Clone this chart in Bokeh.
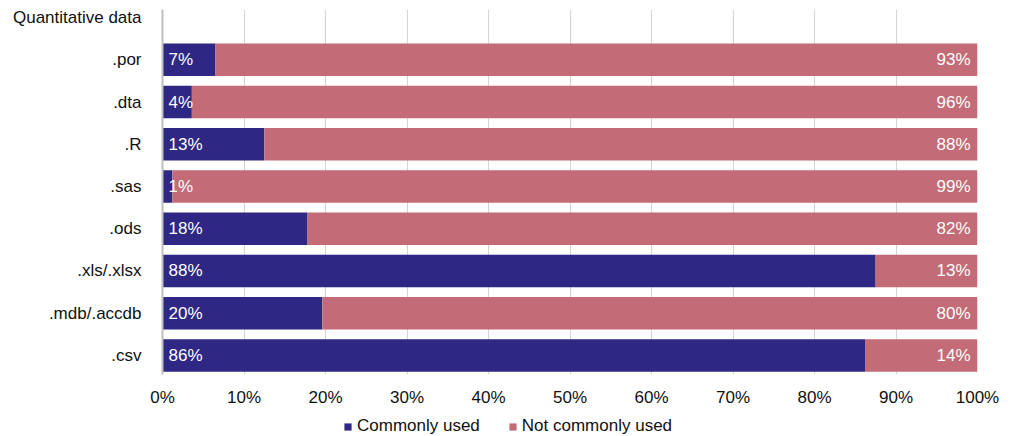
from bokeh.plotting import figure
from bokeh.layouts import column
from bokeh.models import (ColumnDataSource, FixedTicker, Legend, LegendItem,
                          PrintfTickFormatter, Range1d, LabelSet)
from bokeh.core.properties import value
from bokeh.embed import file_html
from bokeh.resources import INLINE

header = "Quantitative data"
categories = [".por", ".dta", ".R", ".sas", ".ods", ".xls/.xlsx", ".mdb/.accdb", ".csv"]
commonly_used = [6.5, 3.6, 12.5, 1.2, 17.8, 87.5, 19.6, 86.2]
not_commonly_used = [93.5, 96.4, 87.5, 98.8, 82.2, 12.5, 80.4, 13.8]
commonly_labels = ["7%", "4%", "13%", "1%", "18%", "88%", "20%", "86%"]
not_commonly_labels = ["93%", "96%", "88%", "99%", "82%", "13%", "80%", "14%"]
x_ticks = [0, 10, 20, 30, 40, 50, 60, 70, 80, 90, 100]
series_names = ["Commonly used", "Not commonly used"]

NAVY = "#2E2783"
PINK = "#C36B77"
COLORS = [NAVY, PINK]
FONT = "Liberation Sans"

n = len(categories)
ypos = [n - 1 - i for i in range(n)]
src = ColumnDataSource(dict(
    y=ypos, cu=commonly_used, ncu=not_commonly_used,
    cul=commonly_labels, ncul=not_commonly_labels,
    zero=[0] * n, full=[100] * n,
))

p = figure(frame_width=815, frame_height=365, output_backend="svg", toolbar_location=None,
           x_range=Range1d(0, 100), y_range=Range1d(-0.45, n + 0.19),
           min_border_left=162, min_border_right=36, min_border_top=9,
           min_border_bottom=0)
p.outline_line_color = None

rs = p.hbar_stack(["cu", "ncu"], y="y", height=0.77, source=src,
                  color=COLORS, line_color=None)

p.add_layout(LabelSet(x="zero", y="y", text="cul", source=src, x_offset=6,
                      text_align="left", text_baseline="middle",
                      text_color="white", text_font_size="17px", text_font=value(FONT)))
p.add_layout(LabelSet(x="full", y="y", text="ncul", source=src, x_offset=-7,
                      text_align="right", text_baseline="middle",
                      text_color="white", text_font_size="17px", text_font=value(FONT)))

# axes
p.xaxis.ticker = FixedTicker(ticks=x_ticks)
p.xaxis.formatter = PrintfTickFormatter(format="%d%%")
p.xaxis.axis_line_color = None
p.xaxis.major_tick_line_color = None
p.xaxis.minor_tick_line_color = None
p.xaxis.major_label_standoff = 7
p.xaxis.major_label_text_font_size = "17px"
p.xaxis.major_label_text_font = FONT
p.xaxis.major_label_text_color = "#111111"

p.yaxis.ticker = FixedTicker(ticks=ypos + [n])
p.yaxis.major_label_overrides = {**{y: c for y, c in zip(ypos, categories)}, n: header}
p.yaxis.axis_line_color = "#BFBFBF"
p.yaxis.axis_line_width = 2
p.yaxis.major_tick_line_color = None
p.yaxis.minor_tick_line_color = None
p.yaxis.major_label_standoff = 15
p.yaxis.major_label_text_font_size = "17px"
p.yaxis.major_label_text_font = FONT
p.yaxis.major_label_text_color = "#111111"

p.ygrid.grid_line_color = None
p.xgrid.ticker = FixedTicker(ticks=x_ticks)
p.xgrid.grid_line_color = "#D4D4D4"
p.xgrid.grid_line_width = 1

# legend strip (hidden copies of the series supply the legend swatches)
lg = figure(width=1013, height=35, output_backend="svg", toolbar_location=None,
            x_range=Range1d(0, 100), y_range=Range1d(-0.45, n + 0.19),
            x_axis_location=None, y_axis_location=None, min_border=0)
lg.outline_line_color = None
lg.grid.grid_line_color = None
lrs = lg.hbar_stack(["cu", "ncu"], y="y", height=0.77, source=src,
                    color=COLORS, line_color=None)
for r in lrs:
    r.visible = False
legend = Legend(items=[LegendItem(label=s, renderers=[r]) for s, r in zip(series_names, lrs)],
                orientation="horizontal", location=(181, 8),
                label_text_font_size="17px", label_text_font=FONT,
                label_text_color="#111111", label_height=17,
                glyph_width=9, glyph_height=9, label_standoff=5, spacing=28,
                padding=0, margin=0, border_line_color=None,
                background_fill_alpha=0)
lg.add_layout(legend)

open("out.html", "w").write(file_html(column(p, lg, spacing=0), INLINE))
